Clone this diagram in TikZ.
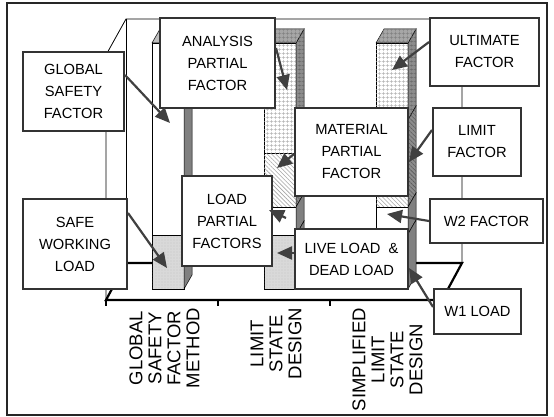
\documentclass[tikz,border=0pt]{standalone}
\usepackage{fontspec}
\setmainfont{Liberation Sans}
\usetikzlibrary{arrows.meta,patterns.meta}
\newcommand\boxfont{\fontsize{14.7}{22}\selectfont}
\newcommand\catfont{\fontsize{18.5}{19}\selectfont}
% #1 x of front face, #2 y top, #3 y bottom, #4 front style, #5 side style
\newcommand\mybarseg[5]{%
  \path[#4] (#1,#2) rectangle (#1+32,#3);
  \path[#5] (#1+32,#2) -- (#1+40,#2-14) -- (#1+40,#3-14) -- (#1+32,#3) -- cycle;
}
\newcommand\mybartop[2]{%
  \path[#2] (#1,43) -- (#1+32,43) -- (#1+40,29) -- (#1+8,29) -- cycle;
}
\begin{document}
\begin{tikzpicture}[x=1pt,y=-1pt,
  seg/.style={draw=black, line width=0.5pt},
  fwhite/.style={seg, fill=white},
  fload/.style={seg, fill=black!15, postaction={pattern={Dots[radius=0.45pt,distance=3pt]}, pattern color=black!35}},
  fgrid/.style={seg, fill=white, postaction={pattern={Hatch[distance=4pt,line width=0.45pt]}, pattern color=black!30}},
  fhatch/.style={seg, fill=white, postaction={pattern={Lines[angle=-45,distance=3pt,line width=0.55pt]}, pattern color=black!35}},
  sdark/.style={seg, fill=black!50},
  sgrid/.style={seg, fill=black!45, postaction={pattern={Hatch[distance=4pt,line width=0.45pt]}, pattern color=black!60}},
  shatch/.style={seg, fill=black!45, postaction={pattern={Lines[angle=-45,distance=3pt,line width=0.55pt]}, pattern color=black!65}},
  topone/.style={seg, fill=black!25},
  toptwo/.style={seg, fill=black!35, postaction={pattern={Hatch[distance=4pt,line width=0.45pt]}, pattern color=black!50}},
  wall/.style={draw=black, line width=0.8pt},
  floorline/.style={draw=black, line width=2.2pt},
  box/.style={draw=black!80, line width=2pt, fill=white, inner sep=0pt, align=center, font=\boxfont},
  arr/.style={draw=black!75, line width=2.2pt, -{Triangle[length=15pt,width=13pt]}},
  cat/.style={rotate=90, anchor=east, align=center, font=\catfont, inner sep=0pt}
]
\useasboundingbox (0,0) rectangle (554,417);
% outer frame
\draw[line width=1.2pt, black!85] (7,3) rectangle (547,415);
% walls
\draw[wall] (106,300) -- (106,55) -- (126,19) -- (462,19) -- (462,263);
\draw[wall] (126,19) -- (126,263);
% floor
\draw[floorline] (106,300) -- (442,300) -- (462,263) -- (126,263) -- cycle;
\foreach \tx in {106,218,330,442} \draw[line width=2pt] (\tx,300) -- (\tx,306);
% bar 1
\mybarseg{152}{43}{235}{fwhite}{sdark}
\mybarseg{152}{235}{289}{fload}{sdark}
\mybartop{152}{topone}
% bar 2
\mybarseg{264}{43}{153}{fgrid}{sgrid}
\mybarseg{264}{153}{207}{fhatch}{shatch}
\mybarseg{264}{207}{235}{fwhite}{sdark}
\mybarseg{264}{235}{289}{fload}{sdark}
\mybartop{264}{toptwo}
% bar 3
\mybarseg{376}{43}{120}{fgrid}{sgrid}
\mybarseg{376}{120}{207}{fhatch}{shatch}
\mybarseg{376}{207}{234}{fwhite}{sdark}
\mybarseg{376}{234}{289}{fload}{sdark}
\mybartop{376}{toptwo}
% boxes
\node[box, minimum width=101pt, minimum height=79pt] (gsf) at (73.5,91.5) {GLOBAL\\SAFETY\\FACTOR};
\node[box, minimum width=115pt, minimum height=90pt] (ana) at (217.5,63) {ANALYSIS\\PARTIAL\\FACTOR};
\node[box, minimum width=109pt, minimum height=68pt] (ult) at (484.5,52) {ULTIMATE\\FACTOR};
\node[box, minimum width=113pt, minimum height=88pt] (mat) at (351.5,152) {MATERIAL\\PARTIAL\\FACTOR};
\node[box, minimum width=88pt, minimum height=68pt] (lim) at (477,142) {LIMIT\\FACTOR};
\node[box, minimum width=90pt, minimum height=90pt] (lpf) at (227,221) {LOAD\\PARTIAL\\FACTORS};
\node[box, minimum width=104pt, minimum height=90pt] (swl) at (75,244) {SAFE\\WORKING\\LOAD};
\node[box, minimum width=113pt, minimum height=44pt] (wtwo) at (486.5,221) {W2 FACTOR};
\node[box, minimum width=113pt, minimum height=60pt] (live) at (351.5,259) {LIVE LOAD\ \ \&\\DEAD LOAD};
\node[box, minimum width=87pt, minimum height=45pt] (wone) at (477.5,311.5) {W1 LOAD};
% arrow tips
\coordinate (t1) at (170,123);
\coordinate (t2) at (287,90);
\coordinate (t3) at (392,70);
\coordinate (t4) at (277,168);
\coordinate (t5) at (409,162);
\coordinate (s6) at (286,218);
\coordinate (t6) at (269,210);
\coordinate (t7) at (167,268);
\coordinate (t8) at (277,253);
\coordinate (t9) at (387,214);
\coordinate (t10) at (409,268);
% arrows
\draw[arr] ([yshift=16.5pt]gsf.east) -- (t1);
\draw[arr] ([yshift=15pt]ana.east) -- (t2);
\draw[arr] ([yshift=10pt]ult.west) -- (t3);
\draw[arr] ([yshift=-2pt]mat.west) -- (t4);
\draw[arr] ([yshift=12pt]lim.west) -- (t5);
\draw[arr] (s6) -- (t6);
\draw[arr] ([yshift=31pt]swl.east) -- (t7);
\draw[arr] ([yshift=6pt]live.west) -- (t8);
\draw[arr] (wtwo.west) -- (t9);
\draw[arr] ([yshift=4.5pt]wone.west) -- (t10);
% category labels
\node[cat] (c1) at (164.5,308) {GLOBAL\\SAFETY\\FACTOR\\METHOD};
\node[cat] (c2) at (276,308) {LIMIT\\STATE\\DESIGN};
\node[cat] (c3) at (387.5,308) {SIMPLIFIED\\LIMIT\\STATE\\DESIGN};
\end{tikzpicture}
\end{document}
